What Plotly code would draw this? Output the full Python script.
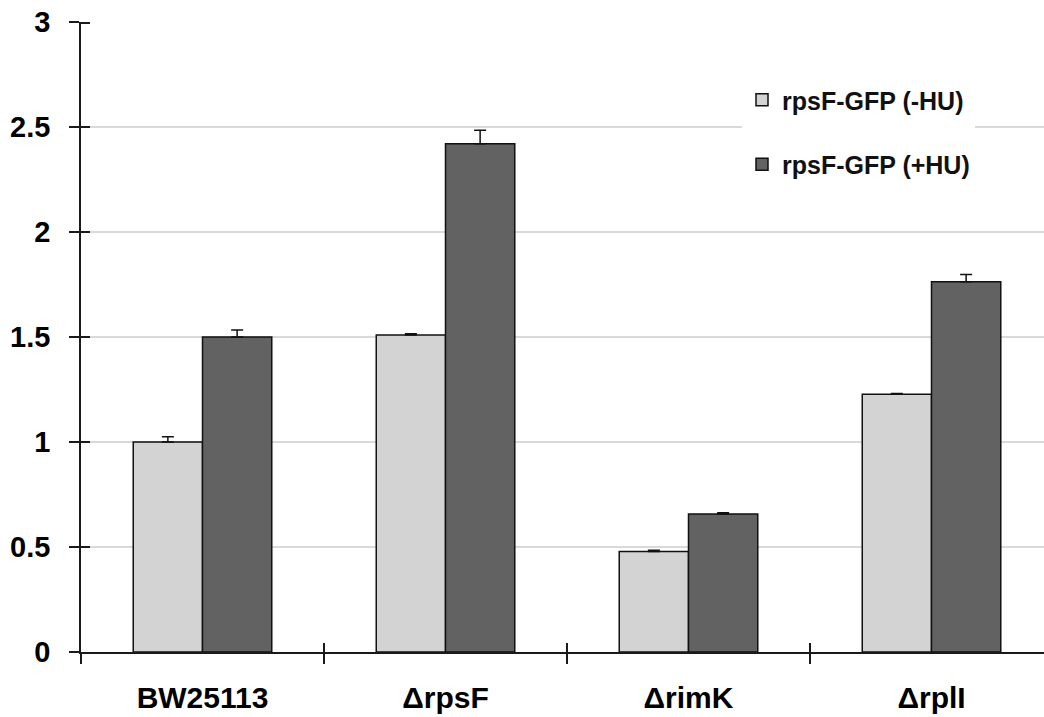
import plotly.graph_objects as go

categories = ["BW25113", "ΔrpsF", "ΔrimK", "ΔrplI"]
minus_hu = [1.00, 1.51, 0.478, 1.227]
minus_hu_err = [0.025, 0.005, 0.006, 0.004]
plus_hu = [1.50, 2.42, 0.657, 1.763]
plus_hu_err = [0.033, 0.065, 0.006, 0.035]
y_ticks = [0, 0.5, 1, 1.5, 2, 2.5, 3]
y_tick_labels = ["0", "0.5", "1", "1.5", "2", "2.5", "3"]
y_inner_ticks = [0.5, 1, 1.5, 2, 2.5, 2.993]

W, H = 1044, 717
ML, MR, MT, MB = 81, 0, 22, 65
xrange_ = [-0.5, -0.5 + (W - ML - MR) / 243.0]
AX = "#1a1a1a"

fig = go.Figure()
fig.add_trace(go.Bar(
    x=categories, y=minus_hu, name="rpsF-GFP (-HU)",
    marker=dict(color="#d3d3d3", line=dict(color="#111111", width=1.5)),
    error_y=dict(type="data", array=minus_hu_err, arrayminus=[0]*4, symmetric=False,
                 color="#111111", thickness=1.5, width=6),
    legendgroup="a",
))
fig.add_trace(go.Bar(
    x=categories, y=plus_hu, name="rpsF-GFP (+HU)",
    marker=dict(color="#626262", line=dict(color="#111111", width=1.5)),
    error_y=dict(type="data", array=plus_hu_err, arrayminus=[0]*4, symmetric=False,
                 color="#111111", thickness=1.5, width=6),
    legendgroup="b",
))
# invisible trace driving the overlay axes that draw the inner half of the crossing ticks
fig.add_trace(go.Scatter(
    x=categories, y=plus_hu, xaxis="x2", yaxis="y2", mode="markers",
    marker=dict(opacity=0), showlegend=False, hoverinfo="skip",
))

fig.update_layout(
    width=W, height=H,
    margin=dict(l=ML, r=MR, t=MT, b=MB, pad=0, autoexpand=False),
    paper_bgcolor="white", plot_bgcolor="white",
    barmode="group", bargap=0.43, bargroupgap=0,
    font=dict(family="Liberation Sans", color="#000000"),
    xaxis=dict(
        type="category", categoryarray=categories, range=xrange_,
        showline=True, linecolor=AX, linewidth=1.5,
        ticks="outside", ticklen=10, tickwidth=1.5, tickcolor=AX,
        tickson="boundaries", showgrid=False, zeroline=False, automargin=False,
        tickfont=dict(family="Liberation Sans", size=30, color="#000000", weight="bold"),
        ticklabelstandoff=18,
    ),
    xaxis2=dict(
        type="category", categoryarray=categories, range=xrange_,
        overlaying="x", anchor="y", side="bottom", automargin=False,
        showline=False, ticks="inside", ticklen=9, tickwidth=1.5, tickcolor=AX,
        tickson="boundaries", showgrid=False, zeroline=False, showticklabels=False,
    ),
    yaxis=dict(
        range=[0, 3], tickvals=y_ticks, ticktext=y_tick_labels,
        showline=True, linecolor=AX, linewidth=1.5,
        ticks="outside", ticklen=10, tickwidth=1.5, tickcolor=AX,
        showgrid=True, gridcolor="#d9d9d9", gridwidth=1.5, zeroline=False, automargin=False,
        tickfont=dict(family="Liberation Sans", size=29, color="#000000", weight="bold"),
        ticklabelstandoff=13,
    ),
    yaxis2=dict(
        range=[0, 3], tickmode="array", tickvals=y_inner_ticks, overlaying="y", anchor="x", side="left",
        showline=False, ticks="inside", ticklen=9, tickwidth=1.5, tickcolor=AX,
        showgrid=False, zeroline=False, showticklabels=False, automargin=False,
    ),
    legend=dict(
        x=(742 - ML) / (W - ML - MR), y=1 - (77 - MT) / (H - MT - MB),
        xanchor="left", yanchor="top",
        bgcolor="white", borderwidth=0,
        font=dict(family="Liberation Sans", size=25, color="#111111", weight="bold"),
        traceorder="grouped", tracegroupgap=29,
        itemclick=False,
    ),
    showlegend=True,
)

fig.write_html("out.html", config={"displayModeBar": False},
               post_script="document.body.style.margin='0';")
